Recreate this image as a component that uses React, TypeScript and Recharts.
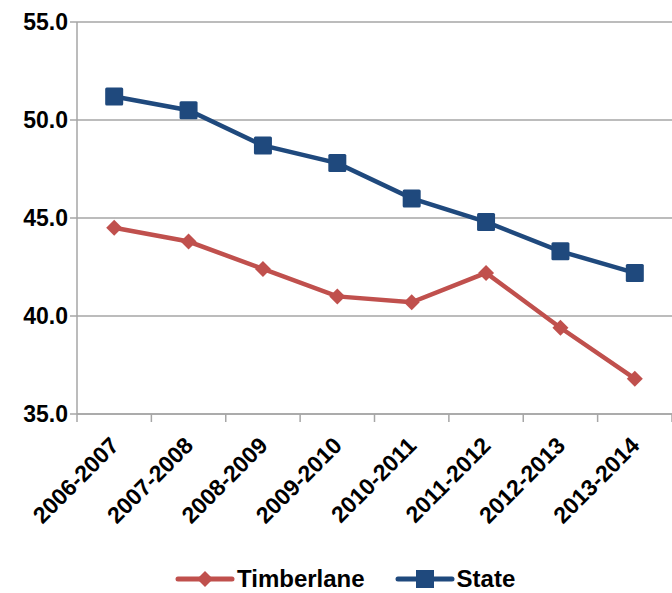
import React from "react";
import { LineChart, Line, XAxis, YAxis, CartesianGrid, Legend } from "recharts";

const years = ["2006-2007", "2007-2008", "2008-2009", "2009-2010", "2010-2011", "2011-2012", "2012-2013", "2013-2014"];
const timberlane = [44.5, 43.8, 42.4, 41.0, 40.7, 42.2, 39.4, 36.8];
const state = [51.2, 50.5, 48.7, 47.8, 46.0, 44.8, 43.3, 42.2];
const yTicks = [35, 40, 45, 50, 55];

const data = years.map((y, i) => ({ year: y, timberlane: timberlane[i], state: state[i] }));

const RED = "#C0504D";
const BLUE = "#1F497D";
const GRID = "#A6A6A6";
const FONT = "'Liberation Sans', Arial, sans-serif";

const W = 672;
const H = 593;
const LEFT = 77;
const BAND = (W - LEFT) / years.length;

const Diamond = (p: any) => {
  const { cx, cy } = p;
  if (cx == null || cy == null) return null;
  const r = 8;
  return <polygon key={p.index} points={`${cx},${cy - r} ${cx + r},${cy} ${cx},${cy + r} ${cx - r},${cy}`} fill={RED} />;
};

const Square = (p: any) => {
  const { cx, cy } = p;
  if (cx == null || cy == null) return null;
  const s = 18;
  return <rect key={p.index} x={cx - s / 2} y={cy - s / 2} width={s} height={s} rx={1.5} fill={BLUE} />;
};

const XTick = (p: any) => {
  const { x, y, payload, index } = p;
  const last = index === years.length - 1;
  const ax = y - 8;
  return (
    <g>
      <line x1={x - BAND / 2} y1={ax} x2={x - BAND / 2} y2={ax + 8} stroke={GRID} strokeWidth={1.5} />
      {last && <line x1={x + BAND / 2} y1={ax} x2={x + BAND / 2} y2={ax + 8} stroke={GRID} strokeWidth={1.5} />}
      <text
        x={x + 6}
        y={y + 25}
        transform={`rotate(-45, ${x + 6}, ${y + 25})`}
        textAnchor="end"
        fontFamily={FONT}
        fontWeight="bold"
        fontSize={23}
        fill="#000"
      >
        {payload.value}
      </text>
    </g>
  );
};

const LegendContent = () => (
  <div style={{ display: "flex", alignItems: "center", paddingLeft: 175, paddingTop: 12, fontFamily: FONT, fontWeight: "bold", fontSize: 24, color: "#000" }}>
    <svg width={60} height={20}>
      <line x1={3} y1={10} x2={57} y2={10} stroke={RED} strokeWidth={5} strokeLinecap="round" />
      <polygon points="30,2 38,10 30,18 22,10" fill={RED} />
    </svg>
    <span style={{ marginLeft: 2, marginRight: 30 }}>Timberlane</span>
    <svg width={60} height={20}>
      <line x1={3} y1={10} x2={57} y2={10} stroke={BLUE} strokeWidth={5} strokeLinecap="round" />
      <rect x={21} y={1} width={18} height={18} fill={BLUE} />
    </svg>
    <span style={{ marginLeft: 2 }}>State</span>
  </div>
);

export default function App() {
  return (
    <div style={{ position: "absolute", left: 0, top: 0, background: "#fff" }}>
      <LineChart width={W} height={H} data={data} margin={{ top: 22, right: 0, bottom: 0, left: 0 }}>
        <CartesianGrid vertical={false} stroke={GRID} strokeWidth={1.5} />
        <XAxis
          dataKey="year"
          interval={0}
          height={139}
          padding={{ left: BAND / 2, right: BAND / 2 }}
          axisLine={{ stroke: GRID, strokeWidth: 1.5 }}
          tickLine={false}
          tick={<XTick />}
        />
        <YAxis
          domain={[35, 55]}
          ticks={yTicks}
          width={LEFT}
          axisLine={{ stroke: GRID, strokeWidth: 1.5 }}
          tickLine={{ stroke: GRID, strokeWidth: 1.5 }}
          tickSize={7}
          tickFormatter={(v: number) => v.toFixed(1)}
          tick={{ fontFamily: FONT, fontWeight: "bold", fontSize: 23, fill: "#000" }}
        />
        <Legend verticalAlign="bottom" height={40} content={<LegendContent />} />
        <Line dataKey="timberlane" stroke={RED} strokeWidth={4.5} dot={Diamond} isAnimationActive={false} />
        <Line dataKey="state" stroke={BLUE} strokeWidth={4.5} dot={Square} isAnimationActive={false} />
      </LineChart>
    </div>
  );
}
